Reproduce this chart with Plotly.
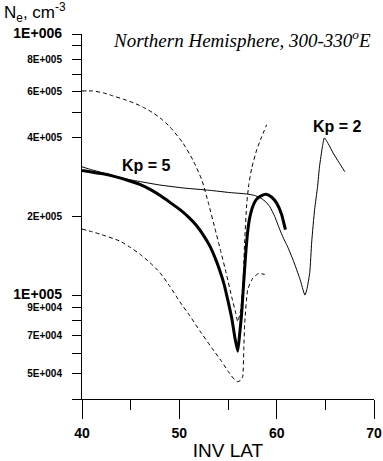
import plotly.graph_objects as go

# Kp = 2 (thin solid)
kp2_lat = [40.0, 41.0, 42.0, 43.3, 44.6, 46.0, 48.0, 50.5, 53.1, 55.2, 56.9, 57.7, 58.3, 58.8, 59.3, 59.8, 60.3, 60.7, 61.1, 61.7, 62.4, 62.7, 62.9, 63.1, 63.4, 63.6, 63.9, 64.2, 64.4, 64.7, 64.9, 65.3, 65.8, 66.4, 67.0]
kp2_ne = [3.1e5, 3.02e5, 2.95e5, 2.86e5, 2.78e5, 2.72e5, 2.64e5, 2.57e5, 2.52e5, 2.47e5, 2.44e5, 2.41e5, 2.36e5, 2.29e5, 2.18e5, 2.0e5, 1.79e5, 1.65e5, 1.54e5, 1.36e5, 1.15e5, 1.05e5, 1.0e5, 1.05e5, 1.22e5, 1.6e5, 2.13e5, 2.6e5, 3.1e5, 3.7e5, 4.0e5, 3.8e5, 3.5e5, 3.22e5, 2.97e5]

# Kp = 5 (thick solid)
kp5_lat = [40.0, 41.0, 42.0, 43.3, 44.6, 46.0, 47.0, 48.0, 49.0, 50.1, 51.0, 51.8, 52.5, 53.1, 53.6, 54.1, 54.6, 55.0, 55.4, 55.7, 56.0, 56.2, 56.4, 56.6, 56.8, 57.0, 57.2, 57.5, 57.9, 58.4, 59.0, 59.5, 60.0, 60.5, 60.9]
kp5_ne = [3.0e5, 2.96e5, 2.92e5, 2.85e5, 2.76e5, 2.65e5, 2.54e5, 2.41e5, 2.27e5, 2.12e5, 1.98e5, 1.84e5, 1.69e5, 1.55e5, 1.41e5, 1.26e5, 1.1e5, 9.5e4, 8.1e4, 6.9e4, 6.1e4, 7.1e4, 8.5e4, 1.1e5, 1.41e5, 1.72e5, 1.95e5, 2.16e5, 2.32e5, 2.4e5, 2.43e5, 2.37e5, 2.25e5, 2.04e5, 1.78e5]

# upper dashed envelope
up_lat = [40.0, 41.1, 42.2, 43.2, 44.3, 45.3, 46.3, 47.3, 48.2, 49.03, 50.36, 51.38, 52.31, 53.03, 53.64, 54.26, 54.87, 55.38, 55.79, 56.0, 56.31, 56.51, 56.62, 56.72, 56.92, 57.13, 57.44, 57.95, 58.46, 58.97]
up_ne = [6.05e5, 6.05e5, 5.95e5, 5.79e5, 5.62e5, 5.45e5, 5.24e5, 4.99e5, 4.71e5, 4.41e5, 3.83e5, 3.3e5, 2.76e5, 2.22e5, 1.81e5, 1.47e5, 1.19e5, 9.84e4, 8.55e4, 7.91e4, 8.79e4, 1.05e5, 1.31e5, 1.63e5, 2.22e5, 2.64e5, 3.07e5, 3.6e5, 4.04e5, 4.49e5]

# lower dashed envelope
lo_lat = [40.0, 41.0, 41.9, 43.9, 45.0, 46.0, 47.0, 48.0, 49.03, 50.05, 51.08, 52.1, 53.33, 54.36, 55.18, 55.69, 56.0, 56.31, 56.51, 56.62, 56.72, 57.03, 57.54, 58.15, 58.77]
lo_ne = [1.79e5, 1.75e5, 1.71e5, 1.61e5, 1.52e5, 1.43e5, 1.33e5, 1.22e5, 1.08e5, 9.43e4, 8.33e4, 7.3e4, 6.28e4, 5.56e4, 5.0e4, 4.74e4, 4.66e4, 4.72e4, 4.87e4, 6.18e4, 7.83e4, 1.05e5, 1.16e5, 1.21e5, 1.2e5]

y_tickvals = [1e6, 8e5, 6e5, 4e5, 2e5, 1e5, 9e4, 7e4, 5e4]
y_ticktext = ["<span style='font-size:14px'>1E+006</span>", "8E+005", "6E+005", "4E+005", "2E+005",
              "<span style='font-size:14px'>1E+005</span>", "9E+004", "7E+004", "5E+004"]
y_minorvals = [9e5, 7e5, 5e5, 8e4, 6e4, 4e4]
x_tickvals = [40, 50, 60, 70]

fig = go.Figure()
fig.add_trace(go.Scatter(x=up_lat, y=up_ne, mode="lines", line=dict(color="black", width=1, dash="4px,3px", shape="spline", smoothing=0.5)))
fig.add_trace(go.Scatter(x=lo_lat, y=lo_ne, mode="lines", line=dict(color="black", width=1, dash="4px,3px", shape="spline", smoothing=0.5)))
fig.add_trace(go.Scatter(x=kp2_lat, y=kp2_ne, mode="lines", line=dict(color="black", width=1, shape="spline", smoothing=0.5)))
fig.add_trace(go.Scatter(x=kp5_lat, y=kp5_ne, mode="lines", line=dict(color="black", width=3, shape="spline", smoothing=0.5)))

FONT = "Liberation Sans"
fig.update_layout(
    width=383, height=461,
    margin=dict(l=82, r=9, t=34, b=62, autoexpand=False),
    paper_bgcolor="white", plot_bgcolor="white",
    showlegend=False,
    font=dict(family=FONT, color="black"),
    xaxis=dict(range=[40, 70], tickvals=x_tickvals, showgrid=False, zeroline=False,
               showline=True, linecolor="black", linewidth=1,
               ticks="outside", ticklen=19, tickwidth=1, tickcolor="black",
               minor=dict(dtick=5, ticks="outside", ticklen=10, tickwidth=1, tickcolor="black", showgrid=False),
               tickfont=dict(family=FONT, size=14, color="black", weight="bold"), ticklabelstandoff=2,
               title=dict(text="INV LAT", font=dict(family=FONT, size=19, color="black"), standoff=5)),
    yaxis=dict(type="log", range=[4.60206, 6.0], tickvals=y_tickvals, ticktext=y_ticktext,
               showgrid=False, zeroline=False, showline=True, linecolor="black", linewidth=1,
               ticks="outside", ticklen=9, tickwidth=1, tickcolor="black",
               minor=dict(tickvals=y_minorvals, ticks="outside", ticklen=9, tickwidth=1, tickcolor="black", showgrid=False),
               tickfont=dict(family=FONT, size=10, color="black", weight="bold"), ticklabelstandoff=8),
    annotations=[
        dict(text="N<sub>e</sub>, cm<sup>-3</sup>", xref="paper", yref="paper", x=-0.273, y=1.058,
             xanchor="left", yanchor="middle", showarrow=False, font=dict(family=FONT, size=17, color="black")),
        dict(text="<i>Northern Hemisphere, 300-330<sup>o</sup>E</i>", xref="paper", yref="paper", x=0.997, y=0.986,
             xanchor="right", yanchor="middle", showarrow=False, font=dict(family="Liberation Serif", size=19, color="black")),
        dict(text="<b>Kp = 5</b>", x=46.6, y=5.495, xref="x", yref="y", showarrow=False,
             font=dict(family=FONT, size=16, color="black")),
        dict(text="<b>Kp = 2</b>", x=66.2, y=5.644, xref="x", yref="y", showarrow=False,
             font=dict(family=FONT, size=16, color="black")),
    ],
)
fig.write_html("out.html", config={"displayModeBar": False},
               post_script="document.body.style.margin='0';document.body.style.overflow='hidden';")
